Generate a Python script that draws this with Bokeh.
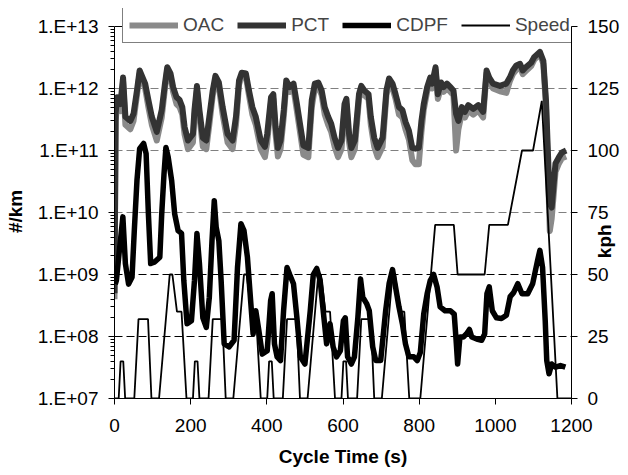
import math
from bokeh.plotting import figure
from bokeh.models import (LinearAxis, LinearScale, Range1d, FixedTicker, Legend, LegendItem,
                          Span)
from bokeh.embed import file_html
from bokeh.resources import INLINE

# ---------------- data ----------------
pn_time = [0, 3, 7, 15.6, 22.5, 28.6, 41.6, 50, 59, 66,
           72, 80.5, 89, 98, 111, 124, 132.5, 138.5, 147, 154,
           163, 171, 178, 184, 193, 206, 210, 216.5, 223, 232,
           241, 249, 258, 265, 274, 284, 297, 310, 319, 327,
           334, 345, 353, 362, 371, 384, 395, 401, 411, 417,
           423, 429, 436, 444.5, 451, 460, 470, 479, 487, 496,
           509, 518, 526, 535, 544, 552, 561, 569, 578, 587,
           596, 604, 609, 616, 622, 631, 642, 648, 656, 667,
           673, 682, 691, 704, 714, 721, 730, 738, 747, 756,
           764, 773, 782, 790, 799, 806, 812, 821, 829, 834,
           843, 849, 857.5, 864, 873, 882, 890, 897, 903, 912,
           920, 929, 942, 955, 968, 977, 984, 994, 1012, 1029,
           1038, 1046, 1055, 1065, 1072, 1080, 1094, 1102, 1117, 1126,
           1133, 1143, 1148, 1154, 1158, 1167, 1175, 1186]

pct = [5e8, 4e11, 7.2e11, 5.6e11, 1.5e12, 3.5e11, 3.0e11, 3.9e11, 9.3e11, 1.95e12,
       1.6e12, 1.2e12, 6.5e11, 3.5e11, 2.0e11, 4.5e11, 1.2e12, 2.2e12, 1.75e12, 1.05e12,
       7.2e11, 6.5e11, 5.0e11, 2.4e11, 1.45e11, 1.85e11, 4.5e11, 1.1e12, 4.5e11, 1.6e11,
       1.45e11, 3.5e11, 9.3e11, 1.6e12, 1.25e12, 5.0e11, 1.85e11, 1.45e11, 3.5e11, 1.35e12,
       1.8e12, 1.75e12, 9.3e11, 5.0e11, 3.5e11, 1.45e11, 1.15e11, 1.85e11, 7.2e11, 8.1e11,
       2.4e11, 1.1e11, 1.45e11, 4.5e11, 1.35e12, 1.05e12, 1.2e12, 5.6e11, 2.7e11, 1.2e11,
       1.1e11, 6.5e11, 1.2e12, 1.25e12, 9.3e11, 5.0e11, 3.5e11, 2.7e11, 1.6e11, 1.1e11,
       1.45e11, 5.6e11, 6.8e11, 1.85e11, 1.1e11, 1.45e11, 8.1e11, 1.1e12, 9.3e11, 8.1e11,
       3.5e11, 1.6e11, 1.1e11, 1.6e11, 9.3e11, 1.45e12, 1.2e12, 8.1e11, 5.0e11, 4.5e11,
       2.9e11, 2.1e11, 1.1e11, 1.07e11, 1.1e11, 3.0e11, 5.6e11, 1.05e12, 1.5e12, 1.2e12,
       2.2e12, 8.1e11, 1.25e12, 1.05e12, 1.2e12, 1.05e12, 9.3e11, 3.9e11, 3.0e11, 5.0e11,
       4.2e11, 5.4e11, 4.7e11, 5.4e11, 4.2e11, 1.95e12, 1.5e12, 1.2e12, 1.1e12, 1.2e12,
       1.5e12, 1.95e12, 2.35e12, 2.5e12, 1.95e12, 2.2e12, 2.6e12, 3.2e12, 3.9e12, 2.8e12,
       6.5e11, 1.4e10, 1.2e10, 3.3e10, 6.2e10, 7.8e10, 9.3e10, 1.0e11]

oac = [4e8, 3e11, 5.5e11, 4.3e11, 1.3e12, 2.6e11, 2.2e11, 3.0e11, 7.8e11, 1.75e12,
       1.4e12, 1.0e12, 5.0e11, 2.6e11, 1.45e11, 3.4e11, 1.0e12, 2.0e12, 1.55e12, 8.8e11,
       5.6e11, 5.0e11, 3.8e11, 1.8e11, 1.05e11, 1.35e11, 3.5e11, 9.5e11, 3.5e11, 1.15e11,
       1.05e11, 2.6e11, 7.8e11, 1.4e12, 1.05e12, 3.8e11, 1.35e11, 1.05e11, 2.6e11, 1.15e12,
       1.6e12, 1.55e12, 7.8e11, 3.8e11, 2.6e11, 1.05e11, 7.8e10, 1.35e11, 6.0e11, 6.8e11,
       1.8e11, 8.0e10, 1.05e11, 3.5e11, 1.15e12, 8.8e11, 1.0e12, 4.3e11, 2.0e11, 8.5e10,
       7.8e10, 5.0e11, 1.0e12, 1.05e12, 7.8e11, 3.8e11, 2.6e11, 2.0e11, 1.15e11, 7.8e10,
       1.05e11, 4.3e11, 5.6e11, 1.35e11, 7.8e10, 1.05e11, 6.8e11, 9.5e11, 7.8e11, 6.8e11,
       2.6e11, 1.15e11, 7.8e10, 1.15e11, 7.8e11, 1.25e12, 1.0e12, 6.8e11, 3.8e11, 3.4e11,
       2.2e11, 1.5e11, 7.0e10, 6.0e10, 6.0e10, 2.0e11, 4.5e11, 9.0e11, 1.3e12, 1.0e12,
       2.0e12, 6.8e11, 1.05e12, 8.8e11, 1.0e12, 8.8e11, 7.8e11, 1.0e11, 2.2e11, 4.0e11,
       3.4e11, 4.4e11, 3.8e11, 4.4e11, 3.4e11, 1.75e12, 1.3e12, 1.0e12, 9.0e11, 8.5e11,
       1.3e12, 1.7e12, 2.0e12, 2.2e12, 1.7e12, 1.9e12, 2.3e12, 2.9e12, 3.6e12, 2.5e12,
       5.0e11, 5.0e9, 8.0e9, 2.2e10, 4.5e10, 6.2e10, 7.5e10, 8.0e10]

cdpf_time = [2, 5, 11, 22, 28.6, 37, 46, 52, 59, 66,
             76.5, 83, 89, 95, 106, 119, 124, 130, 135, 141,
             150, 158, 167, 176, 182, 190.5, 202, 210, 216.5, 223,
             232, 241, 249, 256, 262, 267, 274, 280, 288, 301,
             314, 323, 332, 340, 349, 358, 364, 371, 379, 388,
             401, 410, 414, 420, 427, 436, 444, 453, 460, 470,
             479, 488, 500, 514, 522, 531, 540, 548, 557, 566,
             574, 583, 593, 601, 606, 612, 622, 630, 639, 646,
             652, 662, 669, 678, 686, 699, 712, 721, 730, 738,
             747, 756, 764, 773, 786, 795, 803, 812, 821, 829,
             838, 847, 855, 868, 882, 892, 897, 901, 907, 916,
             924, 932, 938, 951, 964, 972, 978, 984, 992, 1003,
             1016, 1029, 1039, 1048, 1059, 1070, 1085, 1098, 1111, 1117,
             1124, 1131, 1135, 1141, 1148, 1158, 1171, 1184]

cdpf = [7.0e8, 8.0e8, 1.9e9, 8.5e9, 1.5e9, 7.0e8, 9.0e8, 5.1e9, 3.3e10, 1.07e11,
        1.3e11, 8.9e10, 9.5e9, 1.5e9, 1.6e9, 1.9e9, 9.5e9, 4.2e10, 1.12e11, 7.8e10,
        3.3e10, 9.5e9, 5.1e9, 4.6e9, 8.0e8, 1.6e8, 1.8e8, 8.0e8, 4.6e9, 1.5e9,
        2.0e8, 1.4e8, 4.3e8, 3.5e9, 1.55e10, 5.8e9, 3.5e9, 8.0e8, 7.6e7, 6.8e7,
        8.7e7, 1.3e9, 6.6e9, 5.1e9, 1.9e9, 3.4e8, 1.1e8, 2.6e8, 1.25e8, 5.2e7,
        5.9e7, 3.8e8, 4.9e8, 7.6e7, 4.7e7, 4.1e7, 2.6e8, 1.3e9, 1.0e9, 7.1e8,
        2.0e8, 4.7e7, 3.6e7, 2.6e8, 1.0e9, 1.25e9, 8.0e8, 2.6e8, 7.6e7, 1.6e8,
        6.8e7, 4.7e7, 5.9e7, 1.8e8, 2.0e8, 4.7e7, 3.6e7, 4.7e7, 2.0e8, 8.5e8,
        4.3e8, 3.4e8, 2.6e8, 6.8e7, 4.1e7, 4.1e7, 2.6e8, 7.1e8, 1.2e9, 6.3e8,
        3.0e8, 1.6e8, 7.6e7, 4.7e7, 4.7e7, 4.1e7, 5.5e7, 2.3e8, 4.9e8, 8.0e8,
        1.0e9, 6.3e8, 3.0e8, 2.6e8, 2.6e8, 2.3e8, 8.7e7, 3.6e7, 9.8e7, 9.8e7,
        1.1e8, 1.3e8, 9.8e7, 9.1e7, 8.7e7, 1.1e8, 4.9e8, 6.3e8, 2.6e8, 2.0e8,
        1.95e8, 2.2e8, 4.4e8, 5.1e8, 7.1e8, 4.9e8, 4.9e8, 7.1e8, 1.7e9, 2.45e9,
        1.3e9, 1.8e8, 4.1e7, 2.5e7, 3.6e7, 3.2e7, 3.4e7, 3.2e7]

speed_time = [0, 11, 16, 23, 28, 52, 63, 88, 97, 117, 145, 152, 164, 176, 189,
              206, 211, 218, 223, 247, 258, 283, 292, 312, 340, 347, 359, 371, 384,
              401, 406, 413, 418, 442, 453, 478, 487, 507, 535, 542, 554, 566, 579,
              596, 601, 608, 613, 637, 648, 673, 682, 702, 730, 737, 749, 761, 774,
              803, 842, 891, 901, 972, 984, 1033, 1070, 1099, 1122, 1163, 1200]
speed_kph = [0, 0, 15, 15, 0, 0, 32, 32, 0, 0, 50, 50, 35, 35, 0,
             0, 15, 15, 0, 0, 32, 32, 0, 0, 50, 50, 35, 35, 0,
             0, 15, 15, 0, 0, 32, 32, 0, 0, 50, 50, 35, 35, 0,
             0, 15, 15, 0, 0, 32, 32, 0, 0, 50, 50, 35, 35, 0,
             0, 70, 70, 50, 50, 70, 70, 100, 100, 120, 0, 0]

pn_ticks = [1e7, 1e8, 1e9, 1e10, 1e11, 1e12, 1e13]
pn_tick_labels = ["1.E+07", "1.E+08", "1.E+09", "1.E+10", "1.E+11", "1.E+12", "1.E+13"]
speed_ticks = [0, 25, 50, 75, 100, 125, 150]
time_ticks = [0, 200, 400, 600, 800, 1000, 1200]

series_names = ["OAC", "PCT", "CDPF", "Speed"]
x_title = "Cycle Time (s)"
y_title = "#/km"
y2_title = "kph"

# ---------------- layout ----------------
FONT = "Liberation Sans"
FS = "19px"
AXIS_H = 372          # px between 1.E+07 and 1.E+13
HEADROOM = 18         # px of frame kept above 1.E+13 for the legend box
head_frac = HEADROOM / AXIS_H
n_dec = math.log10(pn_ticks[-1]) - math.log10(pn_ticks[0])
y_top = 10 ** (math.log10(pn_ticks[-1]) + n_dec * head_frac)
spd_top = speed_ticks[-1] + (speed_ticks[-1] - speed_ticks[0]) * head_frac
kph_start = 56.6      # speed-axis position where the rotated "kph" title begins

p = figure(width=628, height=475, x_range=Range1d(0, 1200),
           y_range=Range1d(pn_ticks[0], y_top), y_axis_type="log",
           output_backend="svg", toolbar_location=None,
           min_border_left=114, min_border_right=52, min_border_top=8, min_border_bottom=77)
p.extra_y_ranges = {"speed": Range1d(speed_ticks[0], spd_top)}
p.extra_y_scales = {"speed": LinearScale()}
p.outline_line_color = None
p.xgrid.visible = False
p.ygrid.visible = False
p.background_fill_color = "white"
p.border_fill_color = "white"

# dashed horizontal grid lines + top edge of the plot box
grid_colors = {1e8: "black", 1e9: "black", 1e10: "#808080", 1e11: "#808080", 1e12: "#808080"}
for v in pn_ticks[1:-1]:
    p.add_layout(Span(location=v, dimension="width", line_color=grid_colors[v],
                      line_width=1, line_dash="8 4", level="underlay"))
p.add_layout(Span(location=pn_ticks[-1], dimension="width", line_color="black",
                  line_width=1, level="underlay"))

r_oac = p.line(pn_time, oac, line_color="#8a8a8a", line_width=6, line_join="round")
r_pct = p.line(pn_time, pct, line_color="#333333", line_width=6, line_join="round")
r_cdpf = p.line(cdpf_time, cdpf, line_color="black", line_width=5.5, line_join="round")
r_spd = p.line(speed_time, speed_kph, line_color="black", line_width=1.8,
               y_range_name="speed")

# left axis
ya = p.yaxis[0]
minor = [m * d for d in pn_ticks[:-1] for m in range(2, 10)]
ya.ticker = FixedTicker(ticks=pn_ticks, minor_ticks=minor)
ya.bounds = (pn_ticks[0], pn_ticks[-1])
ya.major_label_overrides = dict(zip(pn_ticks, pn_tick_labels))
ya.axis_label = y_title + "\u00a0" * 3
ya.axis_label_standoff = 9

# bottom axis
xa = p.xaxis[0]
xa.ticker = FixedTicker(ticks=time_ticks)
xa.axis_label = x_title
xa.axis_label_standoff = 11

# right axis
ra = LinearAxis(y_range_name="speed", ticker=FixedTicker(ticks=speed_ticks),
                bounds=(speed_ticks[0], speed_ticks[-1]))
p.add_layout(ra, "right")

for ax, standoff in ((ya, 10), (xa, 14), (ra, 10)):
    ax.axis_line_color = "black"
    ax.major_tick_line_color = "black"
    ax.major_tick_out = 6
    ax.major_tick_in = 0
    ax.minor_tick_out = 4
    ax.minor_tick_in = 0
    ax.major_label_standoff = standoff
    ax.major_label_text_font = FONT
    ax.major_label_text_font_size = FS
    ax.major_label_text_color = "black"
    ax.axis_label_text_font = FONT
    ax.axis_label_text_font_size = FS
    ax.axis_label_text_font_style = "bold"
    ax.axis_label_text_color = "black"
xa.minor_tick_line_color = None
ra.minor_tick_line_color = None
ya.minor_tick_line_color = "black"

# "kph" title: a single rotated tick label on a bare speed axis, reading upwards
ra2 = LinearAxis(y_range_name="speed", ticker=FixedTicker(ticks=[kph_start]),
                 major_label_overrides={kph_start: y2_title},
                 major_label_orientation=math.pi / 2,
                 axis_line_color=None, major_tick_line_color=None,
                 minor_tick_line_color=None, major_tick_out=0, major_tick_in=0,
                 minor_tick_out=0, minor_tick_in=0, major_label_standoff=-18,
                 major_label_text_font=FONT, major_label_text_font_size=FS,
                 major_label_text_font_style="bold", major_label_text_color="black")
p.add_layout(ra2, "right")

legend = Legend(items=[LegendItem(label=n, renderers=[r]) for n, r in
                       zip(series_names, [r_oac, r_pct, r_cdpf, r_spd])],
                orientation="horizontal", location=(8, 355),
                label_text_font=FONT, label_text_font_size=FS,
                glyph_width=49, glyph_height=20, label_standoff=5, spacing=13,
                padding=6, margin=0, border_line_color="black", border_line_width=1,
                background_fill_color="white", background_fill_alpha=1.0)
p.add_layout(legend)

open("out.html", "w").write(file_html(p, INLINE))
